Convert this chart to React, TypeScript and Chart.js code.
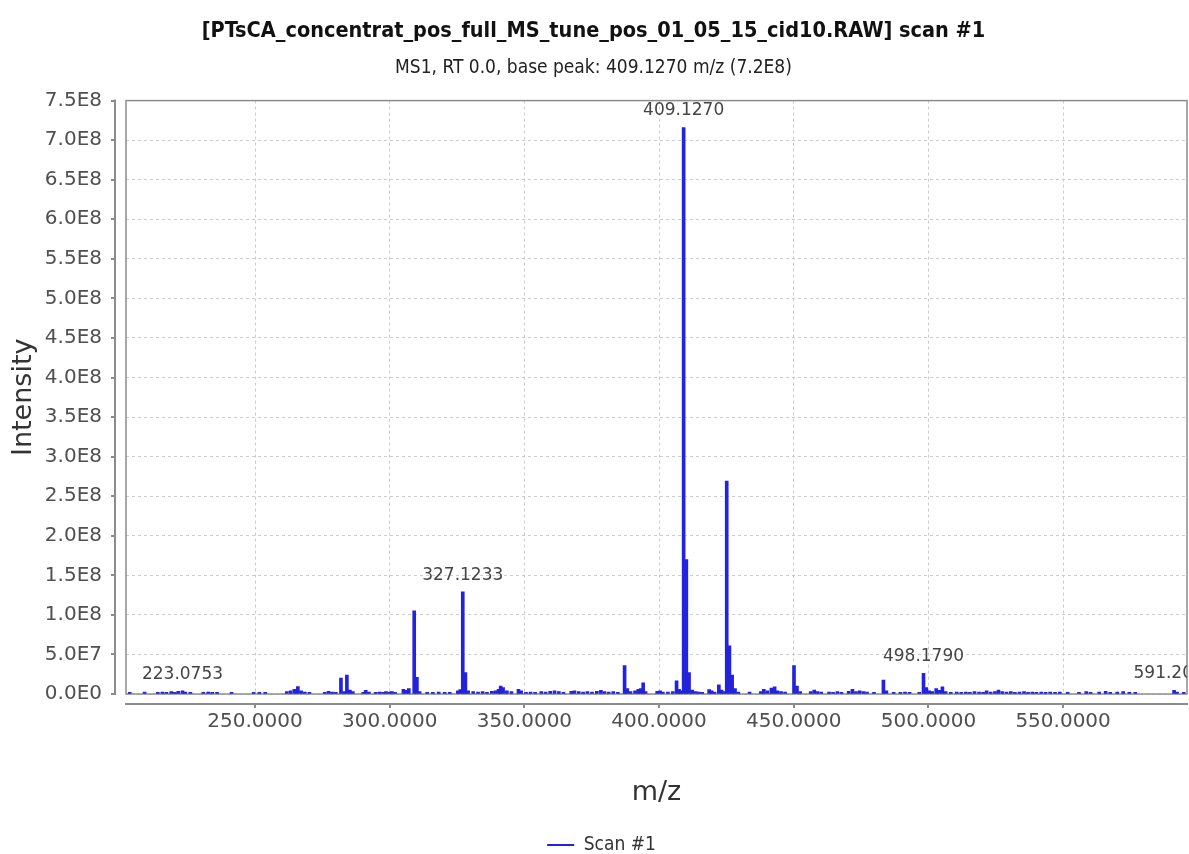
import React, { useEffect, useRef } from "react";
import { Chart, registerables } from "chart.js";

Chart.register(...registerables);

// ---- data (m/z, intensity) ----
const peaksLow: [number, number][] = [
  [203.5, 2.0e6], [209.0, 2.5e6], [213.9, 2.0e6], [215.6, 2.5e6], [217.1, 2.0e6],
  [218.9, 3.0e6], [220.2, 2.0e6], [221.5, 3.5e6], [223.0753, 4.0e6], [224.1, 2.5e6],
  [226.0, 2.0e6], [230.8, 2.0e6], [232.6, 2.5e6], [234.1, 2.0e6], [235.9, 2.0e6],
  [241.3, 2.0e6], [249.5, 2.0e6], [251.6, 2.0e6], [253.8, 2.0e6],
  [261.8, 3.0e6], [263.2, 4.0e6], [264.6, 6.0e6], [265.9, 9.5e6], [267.1, 4.0e6],
  [268.5, 2.5e6], [270.2, 2.0e6], [275.9, 2.0e6], [277.3, 3.5e6], [278.6, 2.5e6],
  [280.0, 2.0e6], [281.9, 2.0e7], [283.1, 3.0e6], [284.1, 2.4e7], [285.2, 5.0e6],
  [286.3, 3.0e6], [290.2, 2.0e6], [291.1, 4.5e6], [292.3, 2.5e6], [294.8, 2.0e6],
  [296.2, 2.5e6], [297.5, 2.0e6], [298.6, 3.0e6], [299.8, 2.5e6], [300.8, 3.0e6],
  [302.0, 2.0e6], [305.1, 6.0e6], [306.2, 4.5e6], [307.1, 7.0e6], [309.1, 1.05e8],
  [310.1, 2.1e7], [311.1, 3.0e6], [313.9, 2.0e6], [316.0, 2.0e6], [318.2, 2.5e6],
  [320.4, 2.0e6], [322.3, 2.0e6], [325.3, 4.0e6], [326.2, 5.5e6], [327.1233, 1.29e8],
  [328.1, 2.7e7], [329.1, 4.0e6],
];

const peaksMid: [number, number][] = [
  [331.0, 3.0e6], [332.8, 2.5e6], [334.5, 3.0e6], [336.1, 2.0e6], [337.9, 3.5e6],
  [339.2, 4.0e6], [340.4, 6.0e6], [341.2, 1.0e7], [342.1, 8.0e6], [343.5, 4.0e6],
  [345.2, 3.0e6], [347.8, 6.0e6], [348.8, 4.0e6], [350.6, 2.0e6], [352.3, 2.5e6],
  [354.0, 2.0e6], [356.3, 3.0e6], [357.9, 2.5e6], [359.6, 3.5e6], [361.2, 4.0e6],
  [362.8, 3.0e6], [364.5, 2.0e6], [367.4, 3.5e6], [368.6, 4.0e6], [370.2, 3.0e6],
  [371.8, 2.5e6], [373.4, 3.0e6], [375.1, 2.5e6], [376.9, 3.5e6], [378.4, 4.5e6],
  [379.7, 3.0e6], [381.3, 2.5e6], [383.0, 3.0e6], [384.7, 2.0e6], [387.2, 3.6e7],
  [388.2, 7.0e6], [389.4, 3.0e6], [391.1, 4.0e6], [392.3, 6.0e6], [393.2, 7.0e6],
  [394.1, 1.4e7], [395.0, 3.0e6], [399.3, 3.5e6], [400.4, 4.0e6], [401.4, 2.5e6],
  [403.3, 2.5e6], [405.1, 3.0e6], [406.5, 1.65e7], [407.4, 6.0e6], [408.1, 4.0e6],
  [409.127, 7.16e8], [410.13, 1.7e8], [411.13, 2.7e7], [412.3, 5.0e6], [413.6, 3.0e6],
  [414.8, 2.5e6], [416.0, 2.0e6], [418.6, 5.5e6], [419.5, 4.0e6], [420.6, 2.5e6],
  [422.2, 1.15e7], [423.2, 5.0e6], [424.1, 3.0e6], [425.122, 2.69e8], [426.125, 6.1e7],
  [427.13, 2.4e7], [428.2, 7.0e6], [429.4, 2.5e6], [433.6, 2.5e6], [437.8, 3.0e6],
  [438.9, 6.0e6], [440.2, 4.0e6], [441.7, 7.5e6], [442.9, 9.0e6], [444.0, 4.0e6],
  [445.3, 3.0e6], [446.8, 2.5e6], [450.1, 3.6e7], [451.2, 1.0e7], [452.4, 3.0e6],
  [456.3, 3.0e6], [457.6, 5.0e6], [458.8, 3.0e6], [460.2, 2.5e6], [463.1, 2.5e6],
  [464.6, 2.0e6], [466.2, 3.0e6], [467.7, 2.0e6],
];

const peaksHigh: [number, number][] = [
  [470.4, 3.5e6], [471.8, 6.0e6], [473.1, 3.0e6], [474.5, 4.0e6], [475.9, 3.0e6],
  [477.2, 2.5e6], [479.8, 2.0e6], [483.3, 1.75e7], [484.4, 4.0e6], [487.1, 2.0e6],
  [489.6, 2.0e6], [491.3, 2.5e6], [493.0, 2.0e6], [496.6, 2.0e6], [498.179, 2.6e7],
  [499.2, 8.0e6], [500.3, 4.0e6], [501.4, 3.0e6], [502.9, 7.0e6], [504.0, 4.5e6],
  [505.2, 9.0e6], [506.4, 3.0e6], [508.3, 2.0e6], [510.5, 2.5e6], [512.2, 2.0e6],
  [513.9, 2.5e6], [515.4, 2.0e6], [517.1, 3.0e6], [518.8, 2.5e6], [520.3, 2.0e6],
  [521.6, 4.0e6], [523.1, 2.5e6], [524.7, 3.0e6], [526.0, 5.0e6], [527.4, 3.0e6],
  [529.0, 2.5e6], [530.6, 3.0e6], [532.1, 2.0e6], [533.8, 2.5e6], [535.5, 3.0e6],
  [537.0, 2.0e6], [538.6, 2.5e6], [540.1, 2.0e6], [541.9, 2.5e6], [543.5, 2.0e6],
  [545.2, 2.5e6], [547.0, 2.0e6], [548.8, 2.5e6], [551.7, 2.0e6], [555.9, 2.0e6],
  [558.6, 3.0e6], [560.2, 2.0e6], [563.4, 2.5e6], [565.8, 3.5e6], [567.5, 2.0e6],
  [570.1, 2.5e6], [572.3, 3.0e6], [574.6, 2.0e6], [576.8, 2.0e6], [591.2034, 4.5e6],
  [592.3, 2.5e6], [594.8, 2.0e6],
];

const labelMz = [223.0753, 327.1233, 409.127, 498.179, 591.2034];
const labelText = ["223.0753", "327.1233", "409.1270", "498.1790", "591.2034"];

const xTicks = [250, 300, 350, 400, 450, 500, 550];
const yTicks = [
  0, 5e7, 1e8, 1.5e8, 2e8, 2.5e8, 3e8, 3.5e8, 4e8, 4.5e8, 5e8, 5.5e8, 6e8, 6.5e8, 7e8, 7.5e8,
];
const xRange = [202.1, 596.0];
const yRange = [0, 7.5e8];

const titleText = "[PTsCA_concentrat_pos_full_MS_tune_pos_01_05_15_cid10.RAW] scan #1";
const subtitleText = "MS1, RT 0.0, base peak: 409.1270 m/z (7.2E8)";
const seriesName = "Scan #1";

const BLUE = "#2323dc";
const NARROW = "'Liberation Sans Narrow', 'DejaVu Sans Condensed', 'Liberation Sans', sans-serif";
const SANS = "'DejaVu Sans', sans-serif";

const fmtE = (v: number) => {
  const [m, e] = v.toExponential(1).split("e");
  return m + "E" + String(parseInt(e, 10));
};

const framePlugin = {
  id: "frameAxes",
  afterLayout(chart: any) {
    // the legend in the reference sits slightly right of the canvas centre
    if (chart.legend) {
      chart.legend.left += 8;
      chart.legend.right += 8;
    }
  },
  beforeDatasetsDraw(chart: any) {
    const { ctx, chartArea: a } = chart;
    ctx.save();
    ctx.strokeStyle = "#8c8c8c";
    ctx.lineWidth = 1.5;
    ctx.strokeRect(a.left, a.top, a.right - a.left, a.bottom - a.top);
    ctx.restore();
  },
  afterDraw(chart: any) {
    const { ctx, chartArea: a, scales } = chart;
    ctx.save();
    ctx.strokeStyle = "#8c8c8c";
    ctx.lineWidth = 2;
    const yx = a.left - 11;
    ctx.beginPath();
    ctx.moveTo(yx, a.top - 1);
    ctx.lineTo(yx, a.bottom + 1);
    yTicks.forEach((v) => {
      const py = Math.round(scales.y.getPixelForValue(v));
      ctx.moveTo(yx - 4, py);
      ctx.lineTo(yx, py);
    });
    const xy = a.bottom + 10;
    ctx.moveTo(a.left - 1, xy);
    ctx.lineTo(a.right + 1, xy);
    xTicks.forEach((v) => {
      const px = Math.round(scales.x.getPixelForValue(v));
      ctx.moveTo(px, xy);
      ctx.lineTo(px, xy + 4);
    });
    ctx.stroke();
    ctx.restore();
  },
};

const allPeaks = () => [...peaksLow, ...peaksMid, ...peaksHigh];

const labelPlugin = {
  id: "peakLabels",
  afterDatasetsDraw(chart: any) {
    const { ctx, chartArea: a, scales } = chart;
    const peaks = allPeaks();
    ctx.save();
    ctx.beginPath();
    ctx.rect(a.left, a.top, a.right - a.left, a.bottom - a.top);
    ctx.clip();
    ctx.font = `17px ${SANS}`;
    ctx.fillStyle = "#454545";
    ctx.textAlign = "center";
    ctx.textBaseline = "bottom";
    labelMz.forEach((mz, i) => {
      let best = peaks[0];
      peaks.forEach((p) => {
        if (Math.abs(p[0] - mz) < Math.abs(best[0] - mz)) best = p;
      });
      const px = scales.x.getPixelForValue(mz);
      const py = scales.y.getPixelForValue(best[1]);
      ctx.fillText(labelText[i], px, py - 8);
    });
    ctx.restore();
  },
};

export default function App() {
  const ref = useRef<HTMLCanvasElement | null>(null);

  useEffect(() => {
    if (!ref.current) return;
    const data = allPeaks().map(([x, y]) => ({ x, y }));
    const chart = new Chart(ref.current, {
      type: "bar",
      data: {
        datasets: [
          {
            label: seriesName,
            data: data as any,
            backgroundColor: BLUE,
            borderColor: BLUE,
            borderWidth: 0,
            barThickness: 3,
            grouped: false,
          } as any,
        ],
      },
      options: {
        responsive: false,
        animation: false,
        devicePixelRatio: 1,
        layout: { padding: { left: 0, right: 2, top: 1, bottom: -10.5 } },
        plugins: {
          title: {
            display: true,
            text: titleText,
            color: "#111",
            font: { family: NARROW, size: 21.5, weight: "bold" },
            padding: { top: 18, bottom: 12 },
          },
          subtitle: {
            display: true,
            text: subtitleText,
            color: "#222",
            font: { family: NARROW, size: 19, weight: "normal" },
            padding: { top: 0, bottom: 21 },
          },
          legend: {
            display: true,
            position: "bottom",
            labels: {
              boxWidth: 27,
              boxHeight: 2,
              color: "#333",
              padding: 2,
              font: { family: NARROW, size: 19 },
            },
          },
          tooltip: { enabled: false },
        },
        scales: {
          x: {
            type: "linear",
            offset: false,
            min: xRange[0],
            max: xRange[1],
            afterBuildTicks: (s: any) => {
              s.ticks = xTicks.map((v) => ({ value: v }));
            },
            afterFit: (s: any) => {
              s.height = 139.5;
            },
            ticks: {
              callback: (v: any) => Number(v).toFixed(4),
              color: "#505050",
              font: { family: SANS, size: 20 },
              padding: 16,
              maxRotation: 0,
              autoSkip: false,
            },
            grid: { color: "#cccccc", lineWidth: 1, drawTicks: false, offset: false },
            border: { display: false, dash: [3, 3] },
            title: {
              display: true,
              text: "m/z",
              color: "#333",
              font: { family: SANS, size: 27 },
              padding: { top: 0, bottom: 24 },
            },
          },
          y: {
            type: "linear",
            min: yRange[0],
            max: yRange[1],
            afterBuildTicks: (s: any) => {
              s.ticks = yTicks.map((v) => ({ value: v }));
            },
            afterFit: (s: any) => {
              s.width = 126;
            },
            ticks: {
              callback: (v: any) => fmtE(Number(v)),
              color: "#505050",
              font: { family: SANS, size: 20 },
              padding: 24,
              autoSkip: false,
            },
            grid: { color: "#cccccc", lineWidth: 1, drawTicks: false },
            border: { display: false, dash: [3, 3] },
            title: {
              display: true,
              text: "Intensity",
              color: "#333",
              font: { family: SANS, size: 27 },
              padding: { top: 8, bottom: 0 },
            },
          },
        },
      },
      plugins: [framePlugin, labelPlugin],
    } as any);
    return () => chart.destroy();
  }, []);

  return (
    <div style={{ position: "fixed", left: 0, top: 0, width: 1189, height: 854, background: "#fff" }}>
      <canvas ref={ref} width={1189} height={854} style={{ display: "block" }} />
    </div>
  );
}
